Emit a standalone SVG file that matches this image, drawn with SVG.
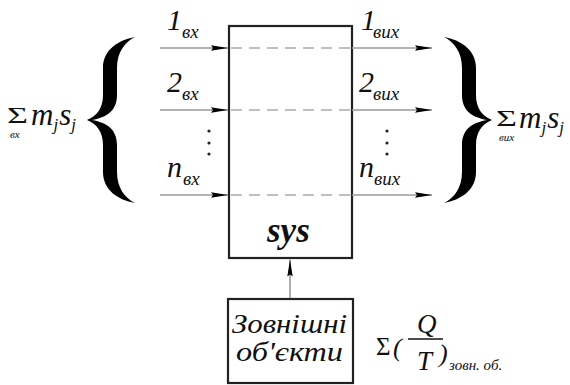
<svg xmlns="http://www.w3.org/2000/svg" width="570" height="385" viewBox="0 0 570 385">
<style>
text{font-family:'Times New Roman','Liberation Serif',Times,'Noto Serif','DejaVu Serif',FreeSerif,Tinos,serif;fill:#111}
.box{fill:#fff;stroke:#222;stroke-width:2.2}
.flow{stroke:#9a9a9a;stroke-width:1.6;fill:none}
.dash{stroke:#aaa;stroke-width:1.6;stroke-dasharray:11 7;fill:none}
.brace{fill:#000}
</style>
<defs>
<marker id="ah" markerUnits="userSpaceOnUse" markerWidth="18" markerHeight="8" refX="17" refY="3.5" orient="auto">
<path d="M0,0.8 L17,3.5 L0,6.2 L2,3.5 Z" fill="#000"/>
</marker>
</defs>

<g id="system">
<rect class="box" x="229" y="26" width="123" height="232"/>
<text x="267" y="242" font-size="35" font-weight="bold" font-style="italic">sys</text>
</g>

<g id="external">
<rect class="box" x="228" y="299" width="125" height="84"/>
<text x="232" y="333" font-style="italic" font-size="28" textLength="115" lengthAdjust="spacingAndGlyphs">Зовнішні</text>
<text x="236" y="361" font-style="italic" font-size="28" textLength="107" lengthAdjust="spacingAndGlyphs">об'єкти</text>
</g>

<g id="connectors">
<line class="flow" x1="160" y1="48" x2="228" y2="48" marker-end="url(#ah)"/>
<line class="flow" x1="160" y1="110" x2="228" y2="110" marker-end="url(#ah)"/>
<line class="flow" x1="160" y1="195" x2="228" y2="195" marker-end="url(#ah)"/>
<line class="dash" x1="231" y1="48" x2="351" y2="48"/>
<line class="dash" x1="231" y1="110" x2="351" y2="110"/>
<line class="dash" x1="231" y1="195" x2="351" y2="195"/>
<line class="flow" x1="352" y1="48" x2="432" y2="48" marker-end="url(#ah)"/>
<line class="flow" x1="352" y1="110" x2="432" y2="110" marker-end="url(#ah)"/>
<line class="flow" x1="352" y1="195" x2="432" y2="195" marker-end="url(#ah)"/>
<line class="flow" x1="290" y1="298" x2="290" y2="259.5" marker-end="url(#ah)"/>
</g>

<g id="input-labels" font-style="italic">
<text x="167" y="30" font-size="30">1</text><text x="182" y="38" font-size="19">вх</text>
<text x="167" y="92" font-size="30">2</text><text x="182" y="100" font-size="19">вх</text>
<text x="167" y="177" font-size="30">n</text><text x="183" y="185" font-size="19">вх</text>
<circle cx="209" cy="131" r="1.6" fill="#222"/>
<circle cx="209" cy="143" r="1.6" fill="#222"/>
<circle cx="209" cy="154" r="1.6" fill="#222"/>
</g>

<g id="output-labels" font-style="italic">
<text x="361" y="30" font-size="30">1</text><text x="373" y="38" font-size="19">вих</text>
<text x="359" y="92" font-size="30">2</text><text x="373" y="100" font-size="19">вих</text>
<text x="359" y="177" font-size="30">n</text><text x="374" y="185" font-size="19">вих</text>
<circle cx="387" cy="131" r="1.6" fill="#222"/>
<circle cx="387" cy="143" r="1.6" fill="#222"/>
<circle cx="387" cy="154" r="1.6" fill="#222"/>
</g>

<g id="left-brace">
<path class="brace" d="M135,37 C118,40 103,50 103,68 L103,95 C103,108 97,116 87,120 C97,124 103,132 103,145 L103,172 C103,190 118,200 135,203 C125,198 117,188 117,172 L117,145 C117,130 108,123 92,120 C108,117 117,110 117,95 L117,68 C117,52 125,42 135,37 Z"/>
</g>

<g id="right-brace">
<path class="brace" transform="translate(579,0) scale(-1,1)" d="M135,37 C118,40 103,50 103,68 L103,95 C103,108 97,116 87,120 C97,124 103,132 103,145 L103,172 C103,190 118,200 135,203 C125,198 117,188 117,172 L117,145 C117,130 108,123 92,120 C108,117 117,110 117,95 L117,68 C117,52 125,42 135,37 Z"/>
</g>

<g id="left-sum">
<text x="7" y="123" font-size="23" textLength="21" lengthAdjust="spacingAndGlyphs">Σ</text>
<text x="10" y="138" font-size="11" font-style="italic">вх</text>
<text x="31" y="125" font-size="31" font-style="italic">m<tspan font-size="17" dy="5">j</tspan><tspan dy="-5" dx="1">s</tspan><tspan font-size="17" dy="5">j</tspan></text>
</g>

<g id="right-sum">
<text x="496" y="126" font-size="23" textLength="21" lengthAdjust="spacingAndGlyphs">Σ</text>
<text x="499" y="141" font-size="11" font-style="italic">вих</text>
<text x="519" y="128" font-size="31" font-style="italic">m<tspan font-size="17" dy="5">j</tspan><tspan dy="-5" dx="1">s</tspan><tspan font-size="17" dy="5">j</tspan></text>
</g>

<g id="entropy-formula">
<text x="376" y="355" font-size="25">Σ</text>
<text x="393" y="356" font-size="26" font-style="italic">(</text>
<text x="417" y="333" font-size="27" font-style="italic">Q</text>
<line x1="408" y1="339" x2="443" y2="339" stroke="#111" stroke-width="1.5"/>
<text x="417" y="370" font-size="27" font-style="italic">T</text>
<text x="439" y="362" font-size="26" font-style="italic">)</text>
<text x="449" y="370" font-size="15" font-style="italic">зовн. об.</text>
</g>
</svg>
